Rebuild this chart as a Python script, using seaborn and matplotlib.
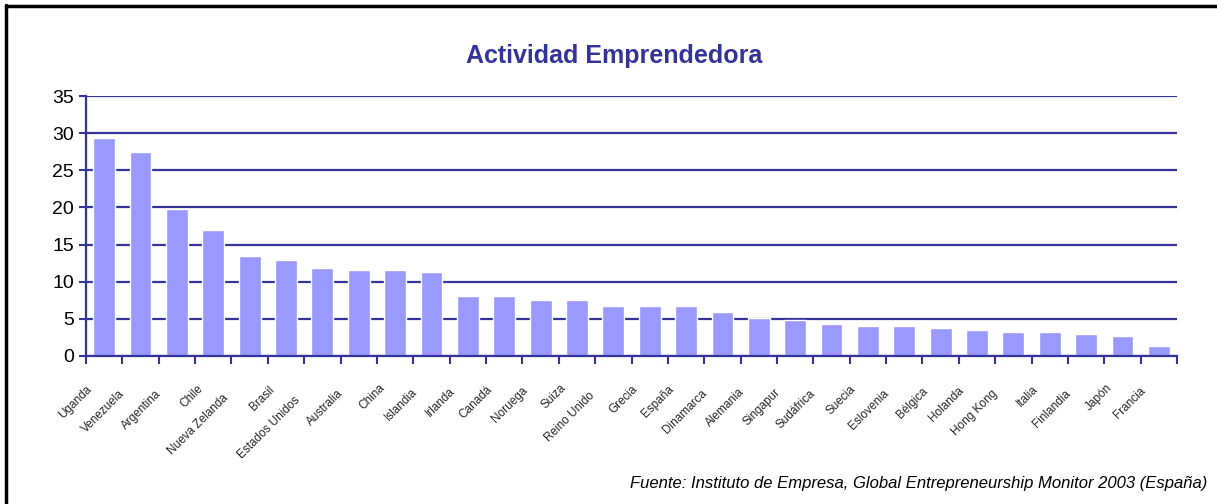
import pandas as pd
import matplotlib
matplotlib.use("Agg")
import matplotlib.pyplot as plt
import matplotlib.transforms as mtransforms
from matplotlib.lines import Line2D
import seaborn as sns

# Data (GEM 2003)
paises = ["Uganda", "Venezuela", "Argentina", "Chile", "Nueva Zelanda", "Brasil",
          "Estados Unidos", "Australia", "China", "Islandia", "Irlanda", "Canadá",
          "Noruega", "Suiza", "Reino Unido", "Grecia", "España", "Dinamarca",
          "Alemania", "Singapur", "Sudáfrica", "Suecia", "Eslovenia", "Bélgica",
          "Holanda", "Hong Kong", "Italia", "Finlandia", "Japón", "Francia"]
valores = [29.3, 27.5, 19.8, 17.0, 13.5, 12.9, 11.8, 11.6, 11.6, 11.3, 8.1, 8.1,
           7.5, 7.5, 6.7, 6.7, 6.7, 5.9, 5.1, 4.9, 4.3, 4.0, 4.0, 3.8, 3.5, 3.2,
           3.2, 3.0, 2.7, 1.3]
y_ticks = [0, 5, 10, 15, 20, 25, 30, 35]

titulo = "Actividad Emprendedora"
fuente = "Fuente: Instituto de Empresa, Global Entrepreneurship Monitor 2003 (España)"

navy = "#333399"
bar_color = "#9999FF"

sns.set_style("white")
plt.rcParams["font.family"] = ["Liberation Sans", "DejaVu Sans"]

df = pd.DataFrame({"pais": paises, "valor": valores})

fig = plt.figure(figsize=(12.17, 5.04), dpi=100)
ax = fig.add_axes([0.0707, 0.2937, 0.8964, 0.5158])

sns.barplot(data=df, x="pais", y="valor", order=paises, color=bar_color,
            saturation=1, width=0.6, ax=ax)

ax.set_xlim(-0.5, len(paises) - 0.5)
ax.set_ylim(0, 35)
ax.set_yticks(y_ticks)
ax.set_xlabel("")
ax.set_ylabel("")

# horizontal gridlines
ax.yaxis.grid(True, color=navy, linewidth=1.6)
ax.set_axisbelow(True)

for side in ["top", "right"]:
    ax.spines[side].set_visible(False)
for side in ["left", "bottom"]:
    ax.spines[side].set_color(navy)
    ax.spines[side].set_linewidth(1.6)

ax.tick_params(axis="y", direction="out", length=5, width=1.5, color=navy,
               labelsize=14, labelcolor="black", pad=3.5, left=True)

# category boundary ticks like in Excel
ax.set_xticks([i - 0.5 for i in range(len(paises) + 1)], minor=True)
ax.tick_params(axis="x", which="minor", direction="out", length=6, width=1.5,
               color=navy, bottom=True)
ax.tick_params(axis="x", which="major", length=0, labelbottom=False)

# rotated country labels, offset grows with label length
for i, p in enumerate(paises):
    n = len(p)
    dx = -(6 + 1.3 * n) / 100
    dy = -(24 + 1.3 * n) / 100
    tr = ax.get_xaxis_transform() + mtransforms.ScaledTranslation(dx, dy, fig.dpi_scale_trans)
    ax.text(i, 0, p, transform=tr, rotation=45, rotation_mode="anchor",
            ha="right", va="center", fontsize=8.5,
            family=["Liberation Sans Narrow", "Liberation Sans", "DejaVu Sans"])

fig.text(0.505, 0.888, titulo, ha="center", va="center", fontsize=18,
         fontweight="bold", color=navy)
fig.text(0.992, 0.04, fuente, ha="right", va="center", fontsize=12,
         style="italic", color="black")

# frame on the left and top edges
fig.add_artist(Line2D([0.0053, 0.0053], [0, 0.99], transform=fig.transFigure,
                      color="black", linewidth=2.5))
fig.add_artist(Line2D([0.0053, 1], [0.988, 0.988], transform=fig.transFigure,
                      color="black", linewidth=2.5))

fig.savefig("out.png", dpi=100)
